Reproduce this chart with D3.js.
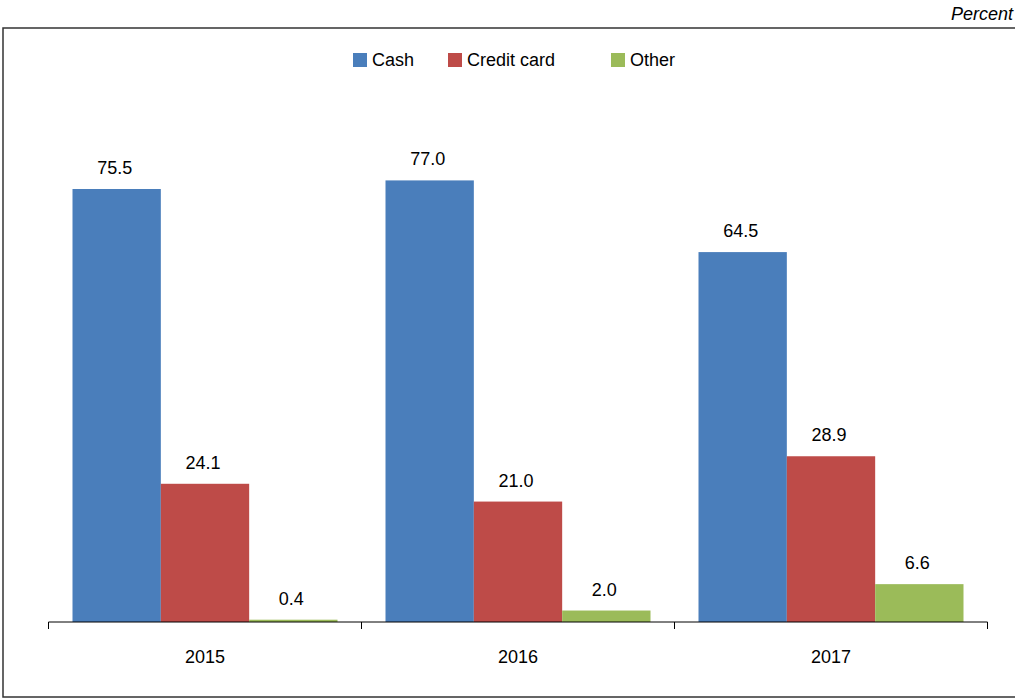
<!DOCTYPE html>
<html>
<head>
<meta charset="utf-8">
<script src="https://cdn.jsdelivr.net/npm/d3@7"></script>
<style>
  body { margin: 0; background: #fff; }
  svg { display: block; font-family: "Liberation Sans", Arial, sans-serif; }
</style>
</head>
<body>
<script>
// chart data
const years = ['2015', '2016', '2017']
const seriesNames = ['Cash', 'Credit card', 'Other']
const cash = [75.5, 77.0, 64.5]
const creditCard = [24.1, 21.0, 28.9]
const other = [0.4, 2.0, 6.6]
const colors = ['#4a7ebb', '#be4b48', '#9bbb59']

const values = [cash, creditCard, other]
const rows = years.map((y, i) => ({year: y, vals: values.map(s => s[i])}))

const width = 1015, height = 699

const svg = d3.select('body').append('svg')
  .attr('width', width)
  .attr('height', height)

// frame
svg.append('rect')
  .attr('x', 3).attr('y', 28)
  .attr('width', 1020).attr('height', 669)
  .attr('fill', 'none')
  .attr('stroke', '#333')
  .attr('stroke-width', 1.5)

svg.append('text')
  .attr('x', 1013).attr('y', 20)
  .attr('text-anchor', 'end')
  .style('font-style', 'italic')
  .style('font-size', '18px')
  .text('Percent')

// scales
const x = d3.scaleBand()
  .domain(years)
  .range([48.5, 987.5])

const inner = d3.scaleBand()
  .domain(seriesNames)
  .range([24, x.bandwidth() - 24])

const y = d3.scaleLinear()
  .domain([0, 100])
  .range([622, 48.5])

// bars
const groups = svg.append('g').selectAll('g').data(rows).enter()
  .append('g')
  .attr('transform', d => `translate(${x(d.year)}, 0)`)

groups.selectAll('rect').data(d => d.vals).enter()
  .append('rect')
  .attr('x', (d, i) => inner(seriesNames[i]))
  .attr('y', d => y(d))
  .attr('width', inner.bandwidth())
  .attr('height', d => y(0) - y(d))
  .attr('fill', (d, i) => colors[i])

groups.selectAll('text').data(d => d.vals).enter()
  .append('text')
  .attr('x', (d, i) => inner(seriesNames[i]) + inner.bandwidth() / 2 - 2)
  .attr('y', d => y(d) - 15)
  .attr('text-anchor', 'middle')
  .style('font-size', '18px')
  .text(d => d.toFixed(1))

// x axis
const axis = svg.append('g')
  .attr('transform', 'translate(0, 622)')
  .call(d3.axisBottom(x).tickSize(0).tickPadding(28))
axis.select('.domain').remove()
axis.selectAll('text')
  .style('font-family', '"Liberation Sans", Arial, sans-serif')
  .style('font-size', '18px')
  .attr('fill', '#000')

axis.append('line')
  .attr('x1', 48.5).attr('x2', 987.5)
  .attr('y1', 0).attr('y2', 0)
  .attr('stroke', '#000')

const edges = years.map(d => x(d)).concat([x(years[years.length - 1]) + x.bandwidth()])
axis.selectAll('.edge').data(edges).enter()
  .append('line')
  .attr('class', 'edge')
  .attr('x1', d => d).attr('x2', d => d)
  .attr('y1', 0).attr('y2', 7)
  .attr('stroke', '#000')

// legend
const legendX = [353, 448, 611]
const legend = svg.append('g').selectAll('g').data(seriesNames).enter()
  .append('g')
  .attr('transform', (d, i) => `translate(${legendX[i]}, 53)`)
legend.append('rect')
  .attr('width', 14).attr('height', 14)
  .attr('fill', (d, i) => colors[i])
legend.append('text')
  .attr('x', 19).attr('y', 13)
  .style('font-size', '18px')
  .text(d => d)
</script>
</body>
</html>
